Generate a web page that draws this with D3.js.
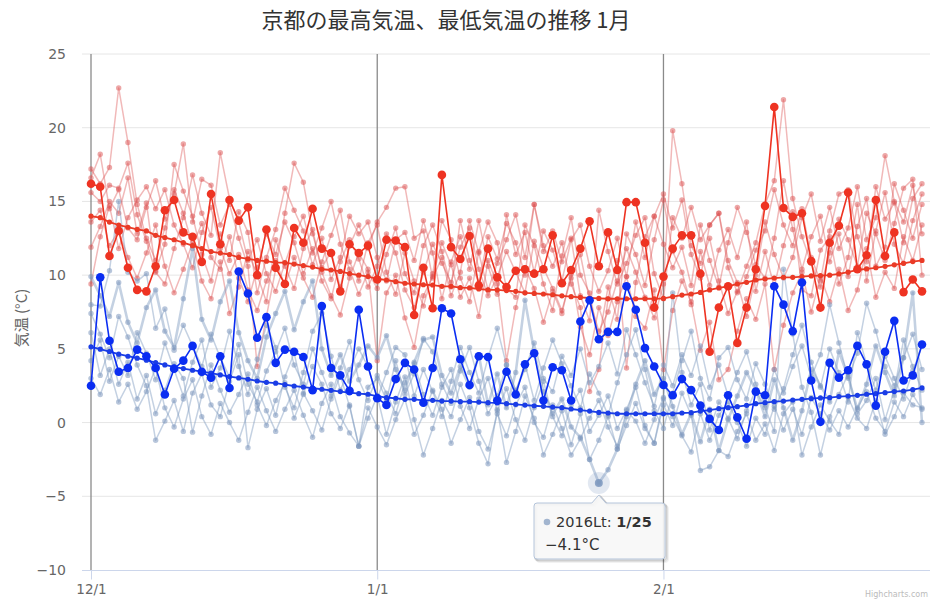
<!DOCTYPE html>
<html><head><meta charset="utf-8">
<script src="https://cdn.jsdelivr.net/npm/d3@7"></script>
<style>body{margin:0;background:#fff}svg{display:block}</style>
</head><body><svg id="c" width="943" height="600"></svg>
<script>
// ---------- data ----------
const startDate = new Date(2015, 11, 1);
const endDate = new Date(2016, 1, 29);
const xTickDates = [new Date(2015, 11, 1), new Date(2016, 0, 1), new Date(2016, 1, 1)];
const yTickValues = [-10, -5, 0, 5, 10, 15, 20, 25];
const titleText = "京都の最高気温、最低気温の推移 1月";
const yTitleText = "気温 (°C)";

// highlighted year (high / low)
const hiMain = [16.2,16.0,11.3,13.0,10.5,9.0,8.9,10.6,14.4,15.1,12.9,12.6,10.9,15.5,12.1,15.1,13.7,14.6,10.0,13.1,10.5,9.4,13.2,12.2,14.5,11.8,11.5,8.9,12.1,11.5,12.0,
 9.7,12.4,12.35,11.9,7.3,10.5,7.75,16.8,11.9,11.1,12.65,9.3,11.8,9.85,9.2,10.3,10.4,10.1,10.4,12.7,9.45,10.35,11.8,13.65,10.6,12.9,10.35,14.95,14.95,12.2,7.8,
 9.9,11.8,12.7,12.7,10.1,4.8,7.8,9.25,5.4,7.8,10.4,14.7,21.4,14.55,13.95,14.2,10.95,7.8,12.2,13.35,15.6,10.4,11.35,15.1,11.3,12.9,8.85,9.7,8.9];
const loMain = [2.5,9.85,5.55,3.45,3.7,4.95,4.5,3.7,1.9,3.65,4.2,5.2,3.45,3.05,4.5,2.35,10.25,8.75,5.75,7.15,4.05,4.95,4.8,4.45,2.2,7.9,3.7,3.2,2.15,7.65,3.8,
 1.65,1.2,2.95,4.05,3.6,1.35,3.7,7.75,7.4,4.3,2.55,4.5,4.45,1.5,3.45,1.9,3.95,4.7,1.5,3.75,3.55,1.5,6.85,8.3,5.65,6.15,6.15,9.25,7.65,5.05,3.8,
 2.55,1.85,2.95,2.2,1.15,0.25,-0.5,1.85,0.35,-1.1,2.1,1.85,9.25,8.0,6.2,9.5,2.85,0.05,4.05,3.05,3.55,5.2,3.95,1.15,4.8,6.9,2.85,3.2,5.3];

// normal (average) lines
const hiAvg = [14.0,13.9,13.6,13.4,13.25,13.1,13.0,12.7,12.55,12.4,12.2,12.0,11.8,11.6,11.5,11.4,11.2,11.1,11.0,10.95,10.85,10.85,10.75,10.65,10.55,10.4,10.35,10.25,10.1,10.0,9.9,
 9.75,9.67,9.56,9.45,9.4,9.35,9.33,9.24,9.24,9.15,9.13,9.06,9.0,9.0,8.95,8.9,8.8,8.76,8.72,8.67,8.6,8.54,8.49,8.45,8.42,8.4,8.4,8.4,8.4,8.4,8.4,
 8.42,8.54,8.65,8.72,8.83,9.0,9.13,9.24,9.4,9.51,9.67,9.74,9.8,9.85,9.85,9.9,9.95,9.97,10.0,10.08,10.2,10.35,10.42,10.5,10.6,10.7,10.8,10.92,11.0];
const loAvg = [5.14,4.98,4.82,4.64,4.5,4.37,4.23,4.07,3.91,3.78,3.66,3.55,3.46,3.35,3.23,3.12,3.03,2.94,2.82,2.73,2.67,2.57,2.48,2.41,2.33,2.26,2.19,2.1,2.03,1.96,1.92,
 1.8,1.69,1.65,1.58,1.58,1.51,1.51,1.46,1.46,1.42,1.42,1.39,1.35,1.33,1.28,1.24,1.19,1.14,1.1,1.05,1.01,0.92,0.85,0.78,0.69,0.65,0.6,0.6,0.6,0.6,0.6,
 0.6,0.6,0.65,0.67,0.78,0.85,0.94,1.01,1.08,1.17,1.28,1.35,1.42,1.46,1.53,1.58,1.62,1.67,1.69,1.76,1.8,1.85,1.92,1.96,2.03,2.1,2.14,2.23,2.35];

// past years, highs
const hi2011 = [17.2,16.2,17.3,22.7,19.0,14.8,12.5,11.0,13.2,15.8,14.2,12.0,13.5,11.2,10.4,12.6,9.8,8.2,10.5,12.8,11.4,13.6,12.2,10.1,11.8,9.6,8.4,10.9,12.4,11.1,
 9.2,10.6,12.8,11.5,9.0,7.8,10.2,12.1,10.8,9.5,11.9,13.2,10.4,8.6,9.9,11.6,10.2,8.8,12.3,10.5,9.1,7.6,9.8,11.4,8.3,6.2,7.5,9.6,11.8,10.2,
 8.5,7.1,9.4,19.8,16.2,12.0,10.8,12.5,9.6,7.4,8.9,10.6,12.2,14.8,16.4,21.9,15.2,12.6,10.8,9.2,11.5,13.8,12.4,10.6,14.2,12.8,11.0,13.5,15.9,16.5,10.0];
const hi2012 = [16.6,18.2,14.5,15.8,13.2,12.4,14.6,16.4,13.8,15.5,18.9,13.6,16.5,16.1,13.4,14.8,12.5,10.6,3.8,7.2,10.4,14.2,17.6,16.3,12.8,10.5,11.6,9.2,12.0,13.4,
 11.8,13.6,14.6,15.9,16.0,12.5,13.0,9.8,11.2,8.6,10.2,13.7,11.5,9.0,10.8,12.4,14.1,11.2,14.8,12.0,10.6,12.2,9.4,7.8,2.1,3.6,8.4,11.0,3.7,9.5,
 12.6,14.0,15.5,13.2,15.1,11.4,9.8,13.4,14.2,10.5,8.8,9.9,11.7,13.0,15.8,13.4,12.0,14.5,11.2,9.6,13.0,15.5,15.8,12.6,10.9,16.0,13.8,14.9,12.2,15.2,16.2];
const hi2013 = [15.6,15.0,16.1,15.9,17.6,14.1,12.3,10.2,9.4,11.8,13.9,16.8,14.2,12.7,18.3,15.2,13.6,11.0,12.4,10.1,8.9,10.8,12.6,14.0,11.5,13.2,15.0,12.1,10.4,8.7,
 10.2,9.1,11.4,13.2,10.1,8.8,12.0,13.4,11.6,9.2,13.7,11.0,9.5,12.6,11.1,13.5,12.2,10.0,14.8,11.6,13.0,10.9,12.5,8.6,6.9,14.4,11.6,9.4,10.8,12.7,
 13.9,10.1,8.4,13.9,12.5,14.6,12.4,13.4,14.2,11.0,9.5,7.2,10.0,13.6,11.4,9.8,11.2,13.9,15.5,12.3,14.6,11.8,13.2,16.0,12.4,13.9,18.1,15.0,13.6,16.1,12.8];
const hi2014 = [13.6,14.4,12.0,13.0,11.2,9.8,11.5,13.4,10.6,8.8,10.4,12.2,9.6,8.4,10.9,7.4,9.2,11.6,10.0,8.2,12.4,10.6,9.1,11.8,13.1,10.2,8.6,7.3,9.8,11.5,
 10.4,4.2,8.8,10.0,7.1,5.1,8.6,9.9,12.2,10.7,8.5,9.8,7.2,11.0,9.4,4.2,7.8,10.5,9.1,6.8,8.9,7.4,10.1,6.5,4.6,7.8,5.9,8.2,9.9,7.2,
 6.4,9.0,3.6,7.6,9.6,8.2,4.9,6.8,2.9,3.6,6.2,8.4,7.0,9.4,3.6,6.6,8.8,10.2,7.5,9.9,8.2,10.4,7.6,9.0,11.8,8.5,10.2,9.1,12.6,11.0,13.4];
const hi2015 = [11.9,13.3,15.0,14.2,16.6,12.8,14.9,10.3,12.1,17.5,15.7,14.0,11.4,9.6,12.8,11.0,14.3,12.9,8.8,11.2,13.1,15.9,14.4,13.0,10.7,12.5,9.7,11.2,14.0,12.8,
 13.6,11.2,9.6,12.4,12.9,11.0,13.7,11.5,8.4,10.9,12.6,10.4,13.7,10.6,8.7,14.1,11.4,12.9,10.2,13.0,11.7,9.6,12.4,13.4,10.6,8.9,10.3,12.5,9.9,13.6,
 11.2,14.0,12.1,10.5,11.9,9.3,13.4,11.0,9.2,12.2,14.6,12.9,10.7,9.8,12.5,16.4,13.1,10.4,12.6,14.0,10.9,12.8,9.9,13.3,15.2,10.6,11.9,16.2,14.4,12.5,14.8];
const hi2016 = [9.4,12.6,14.7,11.8,13.9,15.1,16.0,14.5,15.8,13.4,12.1,10.5,12.9,14.6,11.8,10.1,11.4,9.0,7.6,9.6,11.0,9.3,11.2,9.8,8.5,10.9,12.7,14.4,10.9,9.6,
 12.2,13.4,10.2,8.7,11.5,9.6,7.9,10.1,13.7,12.4,9.8,8.2,11.6,13.6,12.2,9.1,8.5,13.4,12.0,9.4,7.6,11.3,13.9,10.0,8.8,5.6,9.2,7.0,12.8,11.4,
 9.3,12.4,15.1,11.6,10.2,8.0,11.6,9.3,11.7,13.1,11.2,13.6,8.9,11.6,9.2,12.0,14.3,9.0,8.6,11.7,12.6,9.4,11.2,14.8,9.6,13.0,15.6,12.1,10.8,13.7,15.5];

// past years, lows
const lo2016 = [9.9,8.6,7.2,9.5,6.8,5.4,7.8,9.0,6.2,5.1,8.4,11.8,7.0,5.6,8.2,9.6,6.1,4.2,3.0,5.8,7.4,8.9,6.3,8.2,9.6,5.0,3.2,4.6,2.8,3.9,
 5.2,4.4,5.9,3.6,2.2,4.1,5.6,5.8,3.2,2.0,3.8,2.4,4.6,1.2,3.3,1.0,3.4,8.3,4.8,2.1,0.6,1.6,-0.3,-1.0,-2.5,-4.1,-3.2,-1.8,0.4,2.6,
 4.2,1.9,3.0,1.1,-0.8,0.6,-1.3,0.9,-1.9,0.2,1.8,3.4,2.2,0.4,2.9,1.0,-1.2,0.8,3.6,2.5,1.4,4.8,3.1,0.9,2.6,5.2,3.4,1.8,4.4,8.8,0.0];
const lo2012 = [8.0,7.9,10.3,15.0,10.2,9.6,10.1,6.4,7.7,4.9,6.6,5.2,3.8,6.0,4.4,3.1,5.3,2.6,1.4,3.5,4.8,6.4,3.9,2.6,5.0,3.4,1.8,3.7,5.5,2.9,
 1.5,3.2,2.0,0.6,2.7,4.0,1.9,0.5,2.4,3.6,1.1,-0.4,1.6,3.0,0.8,2.3,0.2,-1.2,1.0,2.8,0.4,-0.9,1.2,2.2,-0.6,0.5,1.8,-0.4,0.9,2.4,
 -0.2,-1.4,1.6,8.8,3.4,1.2,2.6,-0.5,1.4,0.3,-1.1,0.8,2.2,1.0,-0.6,10.4,6.0,2.4,0.7,-2.2,0.4,1.9,3.3,0.6,1.5,3.0,0.2,2.2,5.6,3.8,2.2];
const lo2013 = [7.4,6.0,4.4,7.2,5.8,3.9,2.5,-1.2,0.1,1.5,-0.6,2.0,3.3,1.2,0.4,2.8,4.6,-1.7,0.9,2.3,0.5,3.1,4.7,2.0,0.8,-0.5,1.6,3.2,1.1,-1.6,
 0.3,1.8,-0.8,1.4,3.1,0.2,-2.2,-0.4,1.5,0.4,2.6,1.0,-1.4,-2.8,0.9,-2.7,-0.6,1.8,0.3,-2.2,-0.8,0.8,-1.5,0.6,-2.5,-1.2,0.4,-1.8,-0.2,1.3,
 -0.4,-1.4,1.2,-0.2,2.0,0.5,-3.25,-3.0,-1.9,-2.3,-0.6,0.6,-1.2,-0.1,-1.9,0.6,1.4,-2.2,-0.3,1.2,0.1,-0.8,1.7,0.3,-0.4,1.5,-0.8,0.4,2.0,1.2,1.0];
const lo2014 = [6.1,3.2,5.0,2.6,4.1,1.6,3.2,0.6,2.2,4.0,3.0,-0.65,1.8,3.9,2.2,0.7,1.9,3.3,1.2,-0.2,1.5,2.7,0.3,1.9,3.8,2.6,0.6,-0.4,1.2,-1.6,
 2.4,3.0,1.5,4.2,1.9,3.3,5.7,4.8,2.6,1.3,3.5,5.1,2.8,0.6,1.8,3.9,2.2,3.6,5.4,3.0,2.1,4.5,3.2,5.0,2.7,3.8,5.4,3.3,6.3,4.6,
 2.7,1.1,3.9,2.5,4.6,3.2,5.2,2.4,3.9,1.8,3.4,4.8,2.6,1.2,3.6,2.0,3.8,5.2,3.1,4.6,8.0,5.4,3.0,4.7,8.1,6.2,3.8,2.5,4.4,6.0,3.6];
const lo2015 = [4.2,5.6,2.8,4.5,3.2,6.1,4.7,2.9,5.4,3.6,1.8,4.1,5.6,2.4,3.7,6.2,3.8,1.9,4.3,6.6,5.1,2.4,1.0,3.4,6.2,7.4,4.5,2.2,3.6,5.0,
 3.8,1.6,3.4,5.1,4.6,1.8,3.6,2.1,0.4,2.8,5.1,3.4,2.0,4.4,6.4,3.9,2.1,4.0,1.5,3.7,5.6,4.0,2.5,1.0,3.3,2.0,0.5,2.7,4.6,6.3,
 3.6,0.8,-0.4,2.0,4.2,6.2,3.0,1.6,4.4,5.1,2.9,1.6,4.0,2.6,0.9,2.3,4.6,6.6,4.1,2.4,5.0,3.4,1.4,6.1,4.0,2.2,4.5,3.0,1.6,3.5,5.2];
const lo2011 = [3.0,1.9,3.6,1.4,2.6,0.9,2.1,3.7,1.0,-0.3,1.6,2.9,0.4,-0.8,1.3,0.0,-1.2,0.7,2.4,0.8,-0.6,0.9,2.2,0.5,-1.0,1.3,2.6,0.4,-0.7,-1.6,
 1.0,-0.3,-1.5,0.2,1.6,-0.8,0.5,2.2,0.9,-1.4,0.2,1.7,-0.6,-1.8,0.6,-0.9,1.2,2.4,0.0,-1.0,1.2,-0.4,-2.2,-1.1,0.3,1.5,-0.3,-1.6,0.8,0.1,
 -1.4,0.2,1.7,0.4,-0.9,-2.0,0.6,-1.2,0.5,1.4,0.0,-1.6,0.3,-0.8,1.1,-0.5,0.9,-0.8,1.7,0.6,-0.5,0.8,-0.3,1.0,2.1,0.3,-0.6,1.4,0.4,1.9,0.9];

const hiPast = [hi2011, hi2012, hi2013, hi2014, hi2015, hi2016];
const loPast = [lo2011, lo2012, lo2013, lo2014, lo2015, lo2016];
const hoverSeriesName = "2016Lt";
const hoverDate = new Date(2016, 0, 25);
const hoverValue = -4.1;

// ---------- drawing ----------
const svg = d3.select("#c");
const dates = d3.timeDay.range(startDate, d3.timeDay.offset(endDate, 1));
const x = d3.scaleTime().domain([startDate, endDate]).range([91, 922]);
const y = d3.scaleLinear().domain([-10, 25]).range([570, 54]);
const plotL = 82, plotR = 930;
const FONT = "'DejaVu Sans', 'Noto Sans CJK JP', sans-serif";
const fmtNum = d => d < 0 ? "\u2212" + Math.abs(d) : String(d);

// title
svg.append("text").attr("x", 446).attr("y", 28).attr("text-anchor", "middle")
  .attr("font-family", "'Noto Sans CJK JP', sans-serif").attr("font-size", 22)
  .attr("fill", "#333").text(titleText);

// gridlines
svg.append("g").selectAll("line").data(yTickValues.filter(v => v > -10)).join("line")
  .attr("x1", plotL).attr("x2", plotR).attr("y1", d => y(d)).attr("y2", d => y(d))
  .attr("stroke", "#e6e6e6").attr("stroke-width", 1);

// y axis labels
const yAxis = svg.append("g").attr("transform", `translate(${plotL},0)`)
  .call(d3.axisLeft(y).tickValues(yTickValues).tickSize(0).tickPadding(16).tickFormat(fmtNum));
yAxis.select(".domain").remove();
yAxis.selectAll("text").attr("font-family", FONT).attr("font-size", 14).attr("fill", "#666");

// y title
svg.append("text").attr("transform", "translate(27,318) rotate(-90)").attr("text-anchor", "middle")
  .attr("font-family", "'Noto Sans CJK JP', sans-serif").attr("font-size", 15).attr("fill", "#666")
  .text(yTitleText);

// vertical month lines
svg.append("g").selectAll("line").data(xTickDates).join("line")
  .attr("x1", d => x(d)).attr("x2", d => x(d)).attr("y1", 54).attr("y2", 570)
  .attr("stroke", "#8a8a8a").attr("stroke-width", 1.3);

// x axis
svg.append("line").attr("x1", plotL).attr("x2", plotR).attr("y1", 570.5).attr("y2", 570.5)
  .attr("stroke", "#ccd6eb").attr("stroke-width", 1);
const xAxis = svg.append("g").attr("transform", "translate(0,570.5)")
  .call(d3.axisBottom(x).tickValues(xTickDates).tickFormat(d3.timeFormat("%-m/%-d")).tickSize(9).tickPadding(5));
xAxis.select(".domain").remove();
xAxis.selectAll("line").attr("stroke", "#ccd6eb");
xAxis.selectAll("text").attr("font-family", FONT).attr("font-size", 13.5).attr("fill", "#666");

const line = d3.line().x((d, i) => x(dates[i])).y(d => y(d));

function drawSeries(data, opt) {
  const g = svg.append("g");
  g.append("path").datum(data).attr("d", line).attr("fill", "none")
    .attr("stroke", opt.color).attr("stroke-opacity", opt.lineOpacity)
    .attr("stroke-width", opt.width).attr("stroke-linejoin", "round");
  g.selectAll("circle").data(data).join("circle")
    .attr("cx", (d, i) => x(dates[i])).attr("cy", d => y(d)).attr("r", opt.r)
    .attr("fill", opt.color).attr("fill-opacity", opt.dotOpacity);
}

const bgRed = "rgb(220,80,80)";
const bgBlue = "rgb(125,152,190)";
hiPast.forEach(s => drawSeries(s, {color: bgRed, lineOpacity: 0.4, dotOpacity: 0.5, width: 1.5, r: 2.7}));
loPast.forEach((s, k) => drawSeries(s, {color: bgBlue, lineOpacity: 0.45, dotOpacity: 0.55,
  width: k === 5 ? 2.6 : 1.5, r: 2.7}));

drawSeries(hiAvg, {color: "#ea3a26", lineOpacity: 1, dotOpacity: 1, width: 1.8, r: 2.6});
drawSeries(loAvg, {color: "#1a3de6", lineOpacity: 1, dotOpacity: 1, width: 1.8, r: 2.6});
drawSeries(hiMain, {color: "#ee3322", lineOpacity: 1, dotOpacity: 1, width: 1.6, r: 4.3});
drawSeries(loMain, {color: "#0a2df2", lineOpacity: 1, dotOpacity: 1, width: 1.6, r: 4.3});

// hover halo + point
const hx = x(hoverDate), hy = y(hoverValue);
svg.append("circle").attr("cx", hx).attr("cy", hy).attr("r", 11).attr("fill", bgBlue).attr("fill-opacity", 0.22);
svg.append("circle").attr("cx", hx).attr("cy", hy).attr("r", 4).attr("fill", bgBlue).attr("fill-opacity", 0.85);

// tooltip
const tb = {l: 534, r: 665, t: 503, b: 559, ax: hx, ay: hy + 12};
function tipPath(dx, dy) {
  const r = 3;
  return `M${tb.l + r + dx},${tb.t + dy} L${tb.ax - 7 + dx},${tb.t + dy} L${tb.ax + dx},${tb.ay + dy} L${tb.ax + 7 + dx},${tb.t + dy}
    L${tb.r - r + dx},${tb.t + dy} Q${tb.r + dx},${tb.t + dy} ${tb.r + dx},${tb.t + r + dy}
    L${tb.r + dx},${tb.b - r + dy} Q${tb.r + dx},${tb.b + dy} ${tb.r - r + dx},${tb.b + dy}
    L${tb.l + r + dx},${tb.b + dy} Q${tb.l + dx},${tb.b + dy} ${tb.l + dx},${tb.b - r + dy}
    L${tb.l + dx},${tb.t + r + dy} Q${tb.l + dx},${tb.t + dy} ${tb.l + r + dx},${tb.t + dy} Z`;
}
const tip = svg.append("g");
[[3, 0.05], [2, 0.08], [1, 0.12]].forEach(([o, a]) =>
  tip.append("path").attr("d", tipPath(o, o)).attr("fill", "none").attr("stroke", "#000")
    .attr("stroke-opacity", a).attr("stroke-width", 2));
tip.append("path").attr("d", tipPath(0, 0)).attr("fill", "rgba(247,247,247,0.9)")
  .attr("stroke", "#b4c4da").attr("stroke-width", 1);
tip.append("circle").attr("cx", 547).attr("cy", 522).attr("r", 3.3).attr("fill", bgBlue).attr("fill-opacity", 0.7);
const t1 = tip.append("text").attr("x", 556).attr("y", 527).attr("font-family", FONT)
  .attr("font-size", 14.5).attr("fill", "#333");
t1.append("tspan").text(hoverSeriesName + ": ");
t1.append("tspan").attr("font-weight", "bold").text(d3.timeFormat("%-m/%-d")(hoverDate));
tip.append("text").attr("x", 545).attr("y", 550).attr("font-family", FONT).attr("font-size", 15)
  .attr("fill", "#333").text(fmtNum(hoverValue) + "°C");

// credits (faint, bottom-right)
svg.append("text").attr("x", 928).attr("y", 597).attr("text-anchor", "end")
  .attr("font-family", FONT).attr("font-size", 8).attr("fill", "#bbb").text("Highcharts.com");
</script></body></html>
